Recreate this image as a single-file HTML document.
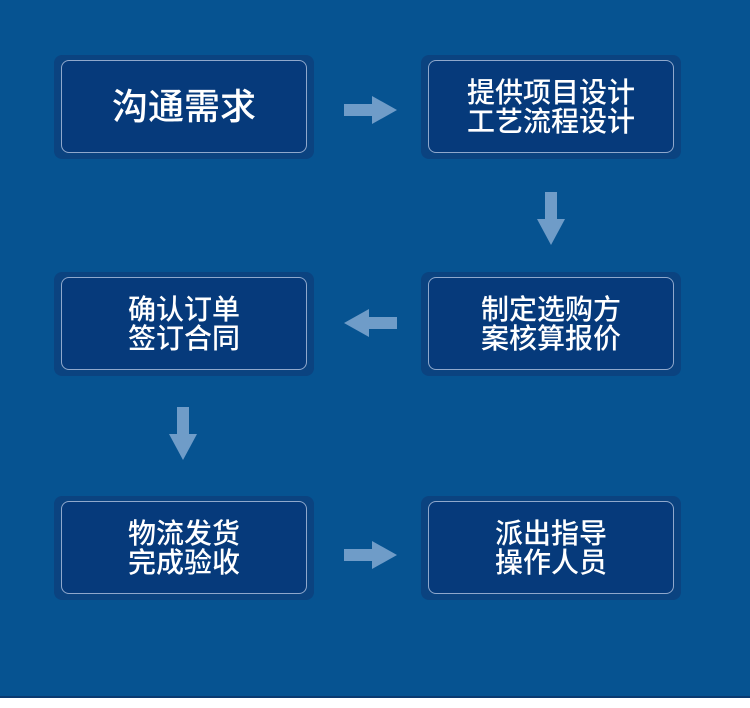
<!DOCTYPE html>
<html><head><meta charset="utf-8"><style>
body{margin:0;width:750px;height:708px;background:#fff;position:relative;overflow:hidden;font-family:"Liberation Sans","Noto Sans CJK SC",sans-serif}
.bg{position:absolute;left:0;top:0;width:750px;height:696px;background:#065391;border-bottom:2px solid #0a3a70}
.o{position:absolute;width:260px;height:104px;background:#0b4380;border-radius:8px}
.i{position:absolute;left:7px;top:5px;width:244px;height:91px;background:#063a7b;border:1px solid #8fa8cc;border-radius:8px;color:#fff;display:flex;align-items:center;justify-content:center;text-align:center;font-size:28px;line-height:29px;font-weight:500}
svg{position:absolute}
</style></head><body>
<div class="bg"></div>
<div class="o" style="left:54px;top:55px"><div class="i" style="font-size:36px">沟通需求</div></div>
<div class="o" style="left:421px;top:55px"><div class="i">提供项目设计<br>工艺流程设计</div></div>
<div class="o" style="left:54px;top:272px"><div class="i">确认订单<br>签订合同</div></div>
<div class="o" style="left:421px;top:272px"><div class="i">制定选购方<br>案核算报价</div></div>
<div class="o" style="left:54px;top:496px"><div class="i">物流发货<br>完成验收</div></div>
<div class="o" style="left:421px;top:496px"><div class="i">派出指导<br>操作人员</div></div>
<svg width="750" height="708" style="left:0;top:0">
<g fill="#6f9cc8">
<polygon points="344,104 372,104 372,96 397,110 372,124 372,116 344,116"/>
<polygon points="344,549 372,549 372,541 397,555 372,569 372,561 344,561"/>
<polygon points="397,317 369,317 369,309 344,323 369,337 369,329 397,329"/>
<polygon points="545,192 557,192 557,219 565,219 551,245 537,219 545,219"/>
<polygon points="177,407 189,407 189,434 197,434 183,460 169,434 177,434"/>
</g></svg>
</body></html>
